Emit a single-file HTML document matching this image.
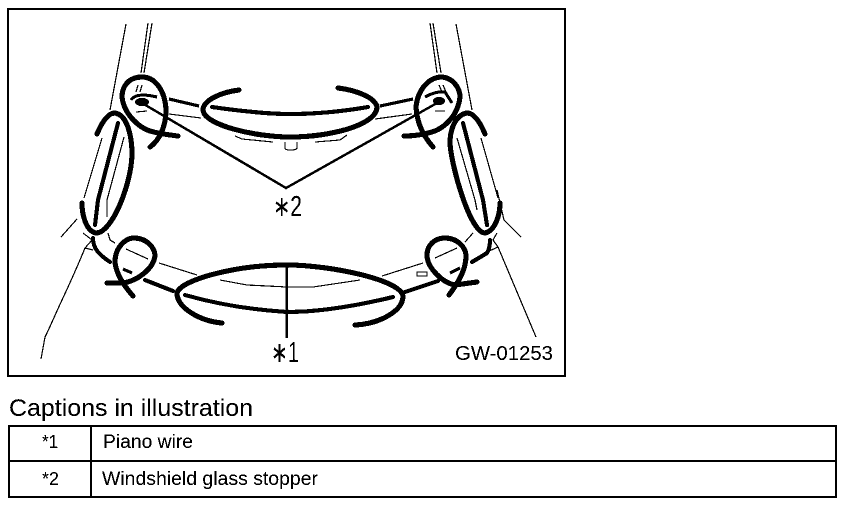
<!DOCTYPE html>
<html><head><meta charset="utf-8"><style>
html,body{margin:0;padding:0;background:#fff;width:864px;height:506px;overflow:hidden}
svg{display:block}
text{font-family:"Liberation Sans",sans-serif;fill:#000}
.k{fill:none;stroke:#000;stroke-width:5;stroke-linecap:round;stroke-linejoin:round}
.m{fill:none;stroke:#000;stroke-width:3;stroke-linecap:butt}
.t{fill:none;stroke:#000;stroke-width:1.1}
.l{fill:none;stroke:#000;stroke-width:2.4}
</style></head><body>
<svg width="864" height="506" viewBox="0 0 864 506" xmlns="http://www.w3.org/2000/svg">
<defs><filter id="b" x="0" y="0" width="100%" height="100%" filterUnits="objectBoundingBox" color-interpolation-filters="sRGB">
<feComponentTransfer><feFuncR type="discrete" tableValues="0 0 0 1 1"/><feFuncG type="discrete" tableValues="0 0 0 1 1"/><feFuncB type="discrete" tableValues="0 0 0 1 1"/></feComponentTransfer>
</filter></defs>
<g filter="url(#b)">
<rect x="0" y="0" width="864" height="506" fill="#fff"/>
<rect x="8" y="9" width="557" height="367" fill="none" stroke="#000" stroke-width="2"/>
<!-- thin lines -->
<path class="t" d="M126 24L110 110M148 23L141 73M152 23L144 73M102 138L84 198M124 137L107 200L107 217M430 23L437 73M433 23L441 73M456 24L472 110M457 138L475 200L477 210M481 138L498 198M497 190L504 220L521 237M77 219L61 237M83 233L92 240L85 248L93 250M85 248C78 265 70 283 62 300C55 315 50 327 45 337L41 359M497 233L493 240L498 247L487 252M498 247L536 337"/>
<path class="t" d="M169 114L201 118M235 136L242 139L273 142M285 142V148Q285 150 290 150Q297 150 297 148V142M347 135L340 140L315 142M375 119L412 114M108 233L110 240L115 243M126 249L148 259M159 263L197 275M220 280L247 285L287 287L313 287L360 280M382 276L423 263M435 258L457 248M465 242L473 233"/>
<path class="t" d="M417 272h10v4h-10zM138 85L136 92M142 85L140 92M136 112L147 111M439 85L442 92M443 85L446 92M435 111L445 111"/>
<!-- medium -->
<path class="m" d="M169 99L199 106M380 106L413 99M450 273L460 268M123 269L132 273M131 100Q136 92 157 97M425 97Q435 91 445 92L452 103"/>
<ellipse cx="142" cy="102" rx="7" ry="4" fill="#000"/>
<ellipse cx="439" cy="101" rx="6" ry="4" fill="#000"/>
<!-- heavy -->
<path class="k" d="M150 147C160 140 166 125 166 110C165 90 155 77 142 77C128 77 122 87 122 97C124 115 140 128 150 131C160 134 170 135 178 136"/>
<path class="k" d="M97 134C102 122 108 113 115 113C127 115 132 135 132 155C131 185 112 233 96 233C86 231 82 215 82 203"/>
<path class="k" style="stroke-width:4" d="M118 123L98 200L95 225"/>
<path class="k" d="M239 90C222 92 203 100 203 110C204 125 255 137 290 137C330 137 377 125 377 107C375 97 355 90 338 88"/>
<path class="k" style="stroke-width:4" d="M212 107C240 111 270 114 290 114C320 114 345 111 368 107"/>
<path class="k" d="M433 147C425 138 417 125 416 107C418 88 430 77 442 77C453 78 460 88 460 97C458 115 445 128 432 132C422 135 412 136 404 136"/>
<path class="k" d="M485 134C480 122 474 113 467 113C455 115 450 130 450 143C451 165 470 233 485 233C495 231 500 215 500 203"/>
<path class="k" style="stroke-width:4" d="M463 123L483 200L487 225"/>
<path class="k" d="M133 296C126 288 116 275 115 262C115 248 125 238 134 238C147 238 155 248 155 256C153 270 135 282 122 283L107 283"/>
<path class="k" style="stroke-width:4" d="M93 238C93 248 98 254 110 262M145 280L173 291"/>
<path class="k" d="M222 323C200 321 177 308 177 293C180 280 235 265 287 265C330 265 403 280 403 297C402 312 378 324 355 325"/>
<path class="k" style="stroke-width:4" d="M185 295C220 305 255 310 287 312C320 312 360 305 393 297"/>
<path class="k" d="M477 282L455 285C443 283 427 268 427 255C427 245 435 238 445 238C458 238 466 248 466 256C466 270 458 283 449 295"/>
<path class="k" style="stroke-width:4" d="M472 262L487 253Q490 248 490 240M405 292L438 281"/>
<path class="l" d="M142 103L286 188L437 103M287 264V338"/>
<!-- labels -->
<text x="273" y="216" font-size="29" textLength="29" lengthAdjust="spacingAndGlyphs">∗2</text>
<text x="271" y="362" font-size="29" textLength="28" lengthAdjust="spacingAndGlyphs">∗1</text>
<text x="455" y="360" font-size="20" textLength="98" lengthAdjust="spacingAndGlyphs">GW-01253</text>
<text x="9" y="416" font-size="24" textLength="244" lengthAdjust="spacingAndGlyphs">Captions in illustration</text>
<!-- table -->
<path fill="none" stroke="#000" stroke-width="2" d="M9 426H836V497H9ZM9 461H836M91 426V497"/>
<text x="42" y="448" font-size="18" textLength="16" lengthAdjust="spacingAndGlyphs">*1</text>
<text x="42" y="485" font-size="18" textLength="17" lengthAdjust="spacingAndGlyphs">*2</text>
<text x="103" y="448" font-size="19" textLength="90" lengthAdjust="spacingAndGlyphs">Piano wire</text>
<text x="102" y="485" font-size="19" textLength="216" lengthAdjust="spacingAndGlyphs">Windshield glass stopper</text>
</g>
</svg>
</body></html>
